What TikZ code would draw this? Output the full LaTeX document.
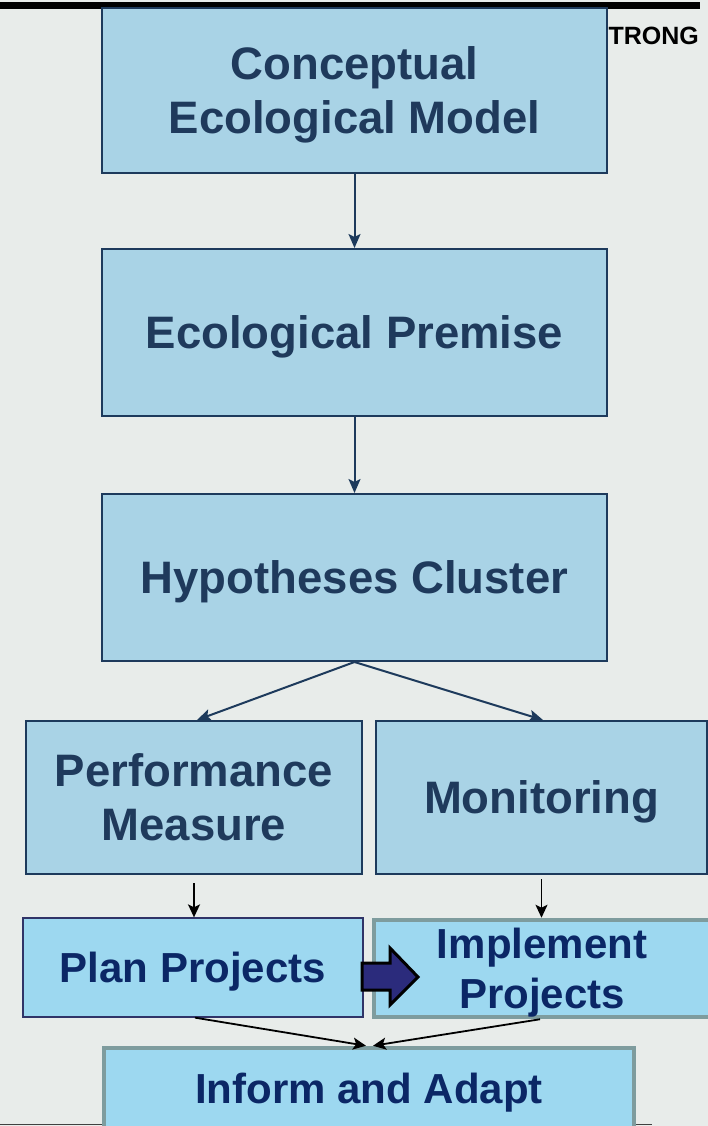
\documentclass[tikz,border=0pt]{standalone}
\usepackage{fontspec}
\setmainfont{Liberation Sans}
\usetikzlibrary{arrows.meta}
\definecolor{bgc}{HTML}{E8ECEA}
\definecolor{upfill}{HTML}{A9D3E6}
\definecolor{upline}{HTML}{1D3A5C}
\definecolor{uptext}{HTML}{1F3A5C}
\definecolor{lofill}{HTML}{9DD8F0}
\definecolor{lotext}{HTML}{0B2766}
\definecolor{grayline}{HTML}{7E9C9E}
\definecolor{fatfill}{HTML}{2B2B7C}
\definecolor{planline}{HTML}{303468}
\tikzset{
  upbox/.style={draw=upline, line width=2pt, fill=upfill, text=uptext, align=center,
    inner sep=0pt, text depth=0pt, font=\fontsize{45.5}{54}\selectfont\bfseries},
  planbox/.style={draw=planline, line width=1.3pt, fill=lofill, text=lotext, align=center,
    inner sep=0pt, text depth=0pt, font=\fontsize{42}{50}\selectfont\bfseries},
  graybox/.style={draw=grayline, line width=4.5pt, fill=lofill, text=lotext, align=center,
    inner sep=0pt, text depth=0pt, font=\fontsize{42}{50}\selectfont\bfseries},
  navyarr/.style={draw=upline, line width=2pt, -{Stealth[length=14pt,width=12pt,inset=3pt]}},
  blkarr/.style={draw=black, line width=1.8pt, -{Stealth[length=13pt,width=12pt,inset=3pt]}},
}
\begin{document}
\begin{tikzpicture}[x=1pt,y=-1pt]
\useasboundingbox (0,0) rectangle (708,1126);
\fill[bgc] (0,0) rectangle (708,1126);
% top bar and header text
\fill[black] (0,2) rectangle (700,9);
\node[anchor=east, inner sep=0pt, font=\fontsize{25}{27}\selectfont\bfseries] (hdr) at (699,36) {TRONG};
% bottom rule
\draw[line width=1.2pt, black!75] (0,1124.5) -- (652,1124.5);
% upper boxes
\node[upbox, minimum width=505pt, minimum height=165pt] (b1) at (354.5,90.5) {Conceptual\\Ecological Model};
\node[upbox, minimum width=505pt, minimum height=167pt] (b2) at (354.5,332.5) {Ecological Premise};
\node[upbox, minimum width=505pt, minimum height=167pt] (b3) at (354.5,577.5) {Hypotheses Cluster};
\node[upbox, minimum width=336pt, minimum height=153pt] (b4) at (194,797.5) {Performance\\Measure};
\node[upbox, minimum width=331pt, minimum height=153pt] (b5) at (541.5,797.5) {Monitoring};
% lower boxes
\node[planbox, minimum width=340pt, minimum height=99pt] (b6) at (193,967.5) {Plan Projects};
\node[graybox, minimum width=336pt, minimum height=97pt] (b7) at (542,968.5) {Implement\\Projects};
\node[graybox, minimum width=530pt, minimum height=80pt] (b8) at (369,1088) {Inform and Adapt};
% connectors
\draw[navyarr] (b1.south) -- (b2.north);
\draw[navyarr] (b2.south) -- (b3.north);
\draw[navyarr] (b3.south) -- ([xshift=3pt]b4.north);
\draw[navyarr] (b3.south) -- ([xshift=1.5pt]b5.north);
\draw[blkarr] ([yshift=-8pt]b4.south) -- (b4.south |- b6.north);
\draw[blkarr] ([yshift=-4pt]b5.south) -- (b5.south |- b7.north);
\draw[blkarr] ([xshift=2pt]b6.south) -- ([xshift=-3pt]b8.north);
\draw[blkarr] ([xshift=-2pt]b7.south) -- ([xshift=4pt]b8.north);
% fat arrow between Plan and Implement
\draw[fill=fatfill, draw=black, line width=3pt, line join=miter]
  (362,963) -- (390,963) -- (390,948) -- (418,977) -- (390,1005) -- (390,990) -- (362,990) -- cycle;
\end{tikzpicture}
\end{document}
